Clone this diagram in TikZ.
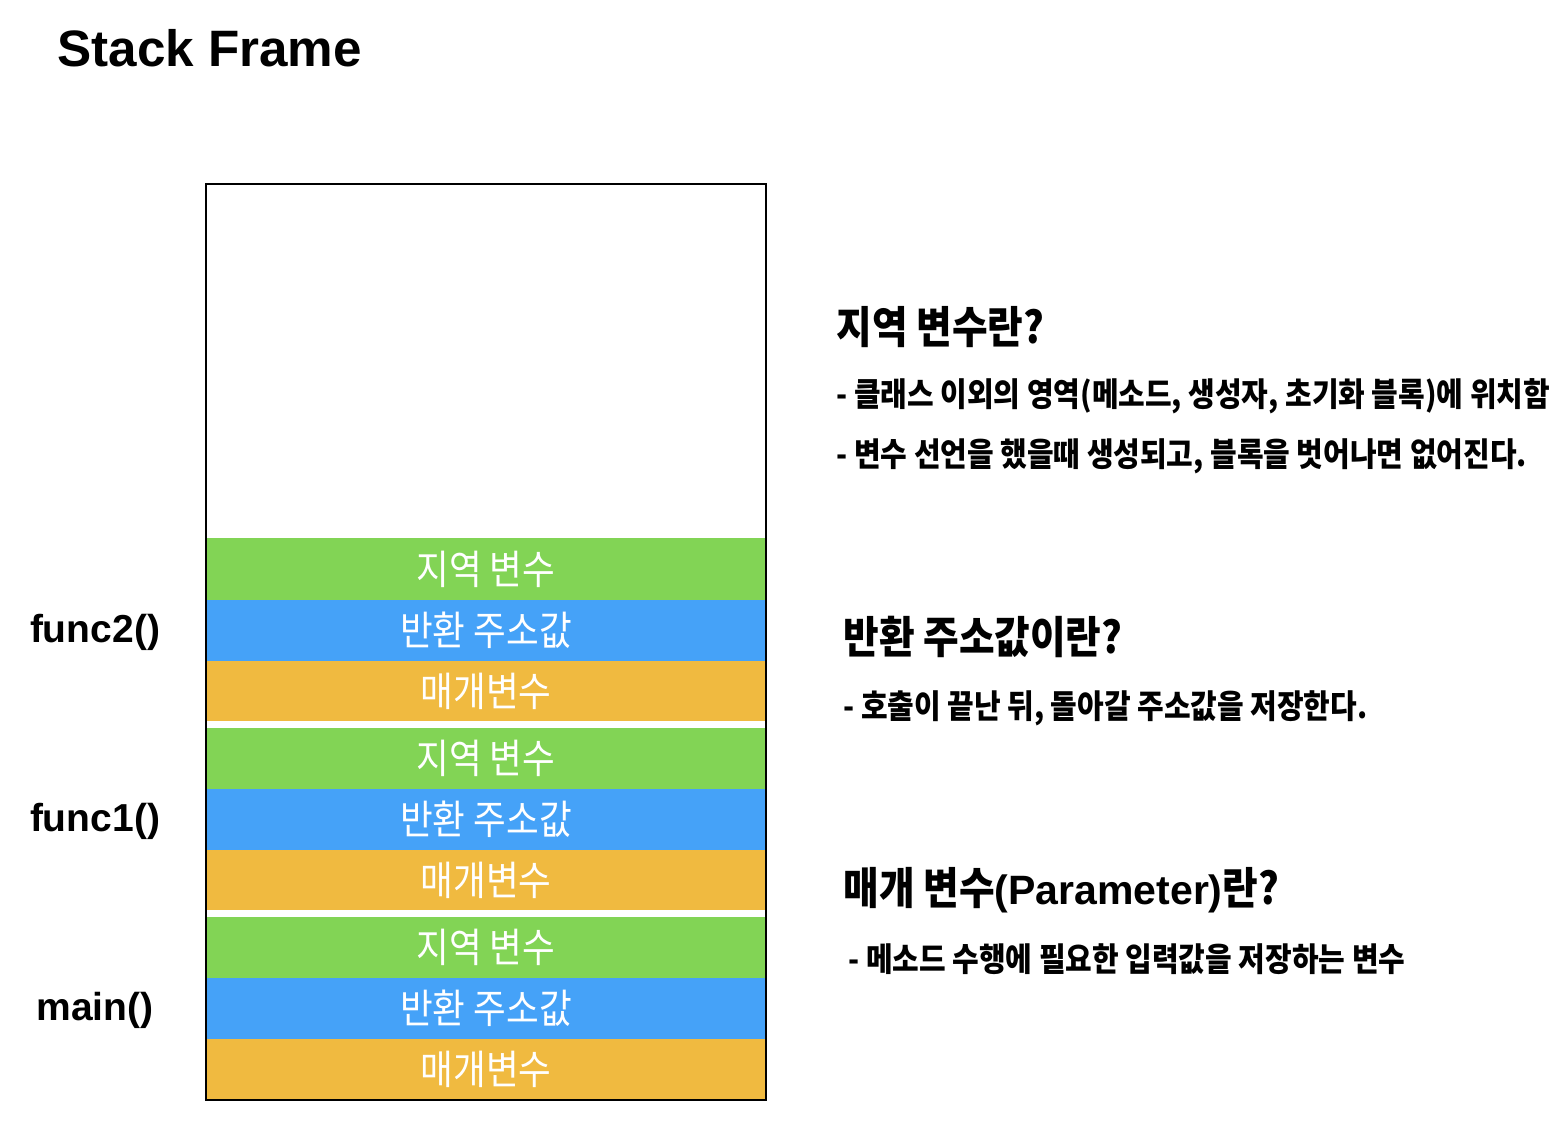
\documentclass[tikz,border=0pt]{standalone}
\usepackage{fontspec}
\setmainfont{Liberation Sans}
\newfontfamily\kr[FakeStretch=0.88]{Noto Sans CJK KR}
\definecolor{lvgreen}{HTML}{82D455}
\definecolor{rablue}{HTML}{45A2F8}
\definecolor{parorange}{HTML}{F0BA40}
\begin{document}
\begin{tikzpicture}[x=0.5pt,y=-0.5pt,
  bandtext/.style={text=white,font=\kr\fontsize{20.2pt}{22pt}\selectfont,inner sep=0pt},
  funclabel/.style={font=\bfseries\fontsize{19.5pt}{22pt}\selectfont,inner sep=0pt},
  heading/.style={anchor=west,font=\kr\bfseries\fontsize{22pt}{26pt}\selectfont,inner sep=0pt},
  desc/.style={anchor=west,font=\kr\bfseries\fontsize{16.45pt}{19pt}\selectfont,inner sep=0pt}]
\useasboundingbox (0,0) rectangle (1564,1124);
\fill[white] (0,0) rectangle (1564,1124);
\node[anchor=west,font=\bfseries\fontsize{25.6pt}{28pt}\selectfont,inner sep=0pt] (title) at (57,48) {Stack Frame};
% func2
\fill[lvgreen] (207,538) rectangle (765,600);
\fill[rablue] (207,600) rectangle (765,661);
\fill[parorange] (207,661) rectangle (765,721);
\node[bandtext] (lv2) at (486,569) {지역 변수};
\node[bandtext] (ra2) at (486,630.5) {반환 주소값};
\node[bandtext] (pa2) at (486,691) {매개변수};
% func1
\fill[lvgreen] (207,728) rectangle (765,789);
\fill[rablue] (207,789) rectangle (765,850);
\fill[parorange] (207,850) rectangle (765,910);
\node[bandtext] (lv1) at (486,758.5) {지역 변수};
\node[bandtext] (ra1) at (486,819.5) {반환 주소값};
\node[bandtext] (pa1) at (486,880) {매개변수};
% main
\fill[lvgreen] (207,917) rectangle (765,978);
\fill[rablue] (207,978) rectangle (765,1039);
\fill[parorange] (207,1039) rectangle (765,1099);
\node[bandtext] (lv0) at (486,947.5) {지역 변수};
\node[bandtext] (ra0) at (486,1008.5) {반환 주소값};
\node[bandtext] (pa0) at (486,1069) {매개변수};
% frame box
\draw[line width=1pt] (206,184) rectangle (766,1100);
% left labels
\node[funclabel] (f2) at (95,632) {func2()};
\node[funclabel] (f1) at (95,821) {func1()};
\node[funclabel] (fm) at (95,1010) {main()};
% right explanations
\node[heading] (h1) at (836,327) {지역 변수란?};
\node[desc] (d1a) at (836,396) {- 클래스 이외의 영역(메소드, 생성자, 초기화 블록)에 위치함};
\node[desc] (d1b) at (836,456) {- 변수 선언을 했을때 생성되고, 블록을 벗어나면 없어진다.};
\node[heading] (h2) at (843,637) {반환 주소값이란?};
\node[desc] (d2) at (843,708) {- 호출이 끝난 뒤, 돌아갈 주소값을 저장한다.};
\node[heading] (h3) at (843,890) {매개 변수{\normalfont\bfseries\fontsize{20.5pt}{24pt}\selectfont(Parameter)}란?};
\node[desc] (d3) at (848,959) {- 메소드 수행에 필요한 입력값을 저장하는 변수};
\end{tikzpicture}
\end{document}
